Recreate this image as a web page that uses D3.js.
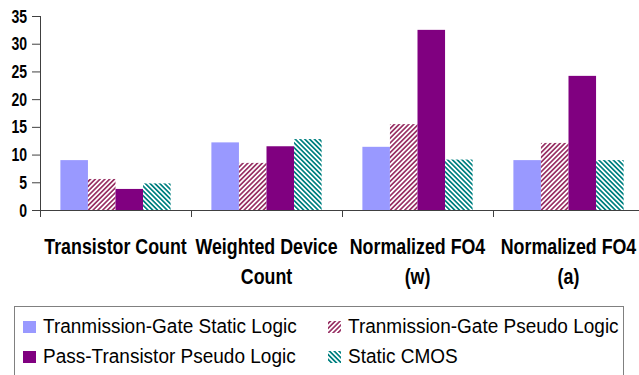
<!DOCTYPE html>
<html>
<head>
<meta charset="utf-8">
<script src="https://cdn.jsdelivr.net/npm/d3@7"></script>
<style>
  html, body { margin: 0; padding: 0; background: #fff; }
  svg { display: block; }
  text { font-family: "Liberation Sans", Arial, Helvetica, sans-serif; }
</style>
</head>
<body>
<svg id="chart" width="639" height="375"></svg>
<script>
// Categories along the x axis (each may wrap onto two lines)
const categories = ["Transistor Count", "Weighted Device Count", "Normalized FO4 (w)", "Normalized FO4 (a)"];
const categoryLines = [["Transistor Count"], ["Weighted Device", "Count"], ["Normalized FO4", "(w)"], ["Normalized FO4", "(a)"]];

// Series names
const seriesNames = [
  "Tranmission-Gate Static Logic",
  "Tranmission-Gate Pseudo Logic",
  "Pass-Transistor Pseudo Logic",
  "Static CMOS"
];

// Values per series, one per category
const tgStatic   = [9.0, 12.2, 11.4, 9.0];
const tgPseudo   = [5.6, 8.5, 15.5, 12.1];
const ptPseudo   = [3.8, 11.5, 32.5, 24.2];
const staticCmos = [4.8, 12.8, 9.1, 9.0];
const seriesValues = [tgStatic, tgPseudo, ptPseudo, staticCmos];

const yTicks = [0, 5, 10, 15, 20, 25, 30, 35];

const svg = d3.select("#chart");

// Diagonal hatch patterns
const defs = svg.append("defs");
function hatch(id, color, dir) {
  const s = 3.4;
  const p = defs.append("pattern")
    .attr("id", id)
    .attr("patternUnits", "userSpaceOnUse")
    .attr("width", s).attr("height", s)
    .attr("patternTransform", `rotate(${dir})`);
  p.append("rect").attr("width", s).attr("height", s).attr("fill", "#fff");
  p.append("line").attr("x1", s / 2).attr("y1", 0).attr("x2", s / 2).attr("y2", s)
    .attr("stroke", color).attr("stroke-width", 1.7);
}
hatch("hatchMaroon", "#993366", 45);
hatch("hatchTeal", "#008080", -45);

const fills = ["#9999FF", "url(#hatchMaroon)", "#800080", "url(#hatchTeal)"];

const plotLeft = 40, plotRight = 644, plotTop = 16, plotBottom = 210;

const x0 = d3.scaleBand().domain(categories).range([plotLeft, plotRight])
  .paddingInner(0.27).paddingOuter(0.135);
const x1 = d3.scaleBand().domain(d3.range(seriesNames.length)).range([0, x0.bandwidth()]);
const y = d3.scaleLinear().domain([0, 35]).range([plotBottom, plotTop]);

// Horizontally condensed text helper
function condensedText(parent, x, yPos, str, size, weight, k, anchor) {
  return parent.append("g")
    .attr("transform", `translate(${x},${yPos}) scale(${k},1)`)
    .append("text")
    .attr("font-size", size)
    .attr("font-weight", weight)
    .attr("fill", "#000")
    .attr("text-anchor", anchor)
    .text(str);
}

// Bars
const groups = svg.append("g").selectAll("g")
  .data(categories)
  .join("g")
  .attr("transform", d => `translate(${x0(d)},0)`);

groups.selectAll("rect")
  .data((d, ci) => seriesValues.map((vals, si) => ({ si, v: vals[ci] })))
  .join("rect")
  .attr("x", d => x1(d.si))
  .attr("width", x1.bandwidth())
  .attr("y", d => y(d.v))
  .attr("height", d => y(0) - y(d.v))
  .attr("fill", d => fills[d.si]);

// Y axis
const yAxis = d3.axisLeft(y).tickValues(yTicks).tickSize(8).tickSizeOuter(0).tickFormat("");
const gy = svg.append("g").attr("transform", `translate(${plotLeft},0)`).call(yAxis);
gy.select(".domain").attr("stroke", "#404040").attr("d", `M0.5,${plotTop}V${plotBottom + 7}`);
gy.selectAll(".tick line").attr("stroke", "#404040");
const yLabels = svg.append("g");
yTicks.forEach(t => {
  condensedText(yLabels, plotLeft - 13, y(t) + 6.5, String(t), 18, "bold", 0.78, "end");
});

// X axis with boundary ticks between categories
const boundaries = categories.map(c => x0(c) - x0.step() * x0.paddingInner() / 2).slice(1);
const gx = svg.append("g");
gx.append("line").attr("x1", plotLeft).attr("x2", 639)
  .attr("y1", plotBottom + 0.5).attr("y2", plotBottom + 0.5).attr("stroke", "#404040");
gx.selectAll("line.b").data(boundaries).join("line").attr("class", "b")
  .attr("x1", d => Math.round(d) + 0.5).attr("x2", d => Math.round(d) + 0.5)
  .attr("y1", plotBottom).attr("y2", plotBottom + 7).attr("stroke", "#404040");

// Category labels
const labels = svg.append("g");
categories.forEach((c, i) => {
  const cx = x0(c) + x0.bandwidth() / 2;
  categoryLines[i].forEach((line, li) => {
    condensedText(labels, cx, 253.5 + li * 30.5, line, 22, "bold", 0.81, "middle");
  });
});

// Legend
const legend = svg.append("g");
legend.append("rect").attr("x", 14.5).attr("y", 306.5).attr("width", 609).attr("height", 80)
  .attr("fill", "#fff").attr("stroke", "#808080");
const legendPos = [[23, 333], [328, 333], [23, 363], [328, 363]];
seriesNames.forEach((name, i) => {
  const [lx, ly] = legendPos[i];
  legend.append("rect").attr("x", lx).attr("y", ly - 12).attr("width", 13).attr("height", 12)
    .attr("fill", fills[i]);
  condensedText(legend, lx + 20, ly, name, 21, "normal", 0.905, "start");
});
</script>
</body>
</html>
